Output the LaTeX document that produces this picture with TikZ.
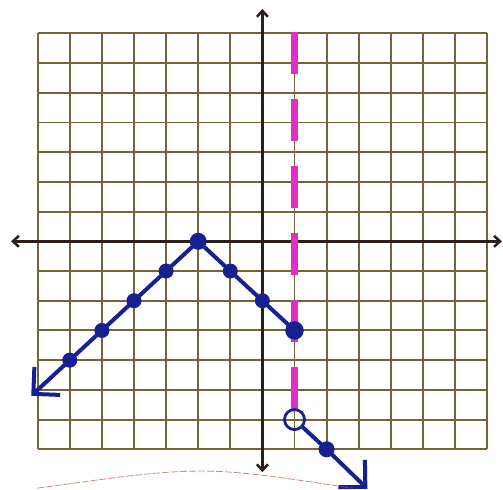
\documentclass[tikz,border=0pt]{standalone}
\usetikzlibrary{arrows.meta}
\definecolor{gridbrown}{RGB}{118,100,55}
\definecolor{axisdark}{RGB}{45,30,25}
\definecolor{inkblue}{RGB}{22,32,145}
\definecolor{inkpink}{RGB}{228,45,195}
\definecolor{edgered}{RGB}{205,80,55}

\begin{document}
\begin{tikzpicture}[
  x=32.1pt, y=29.71pt,
  gridline/.style={draw=gridbrown, line width=1.9pt},
  axis/.style={draw=axisdark, line width=2.5pt,
    {Straight Barb[length=6pt, width=11pt]}-{Straight Barb[length=6pt, width=11pt]}},
  graph/.style={draw=inkblue, line width=4pt, line cap=round, line join=round},
  endtip/.style={-{Straight Barb[length=19pt, width=38pt]}},
  dot/.style={circle, fill=inkblue, inner sep=0pt, minimum size=15pt},
  hole/.style={circle, draw=inkblue, line width=2.8pt, inner sep=0pt, minimum size=20pt},
  asym/.style={draw=inkpink, line width=7pt, dash pattern=on 42pt off 25pt},
  paperedge/.style={draw=edgered, line width=0.8pt, dash pattern=on 7pt off 2pt, opacity=0.7}]
\useasboundingbox[fill=white] (-8.174,-8.337) rectangle (7.495,8.122);

% grid paper and axes
\foreach \k in {-7,...,7} {
  \draw[gridline] (\k,-7) -- (\k,7);
  \draw[gridline] (-7,\k) -- (7,\k);
}
\coordinate (xl) at (-7.83,0);
\coordinate (xr) at (7.46,0);
\coordinate (yb) at (0,-7.77);
\coordinate (yt) at (0,7.82);
\draw[axis] (xl) -- (xr);
\draw[axis] (yb) -- (yt);

% vertical asymptote x = 1
\coordinate (vtop) at (1,7.05);
\coordinate (vbot) at (1,-6.2);
\draw[asym] (vtop) -- (vbot);

% graph points
\node[dot] (m1) at (-6,-4) {};
\node[dot] (m2) at (-5,-3) {};
\node[dot] (m3) at (-4,-2) {};
\node[dot] (m4) at (-3,-1) {};
\node[dot, minimum size=17pt] (peak) at (-2,0) {};
\node[dot] (m5) at (-1,-1) {};
\node[dot] (m6) at (0,-2) {};
\node[dot, minimum size=17pt, draw=inkblue, line width=1.5pt] (m7) at (1,-3) {};
\node[hole] (open) at (1,-6) {};
\node[dot, minimum size=16pt] (m8) at (2,-7) {};
\coordinate (endl) at (-7.2,-5.2);
\coordinate (endr) at (3.27,-8.33);

% left piece
\draw[graph] (peak) -- (m4) -- (m3) -- (m2) -- (m1);
\draw[graph, endtip] (m1) -- (endl);
\draw[graph] (peak) -- (m5) -- (m6) -- (m7);
% right piece
\draw[graph] (open) -- (m8);
\draw[graph, endtip] (m8) -- (endr);

% edge of the sheet
\coordinate (al) at (-7.02,-8.31);
\coordinate (ac) at (-1.88,-7.54);
\coordinate (ar) at (2.82,-8.31);
\draw[paperedge] (al) .. controls (ac) .. (ar);
\end{tikzpicture}
\end{document}
